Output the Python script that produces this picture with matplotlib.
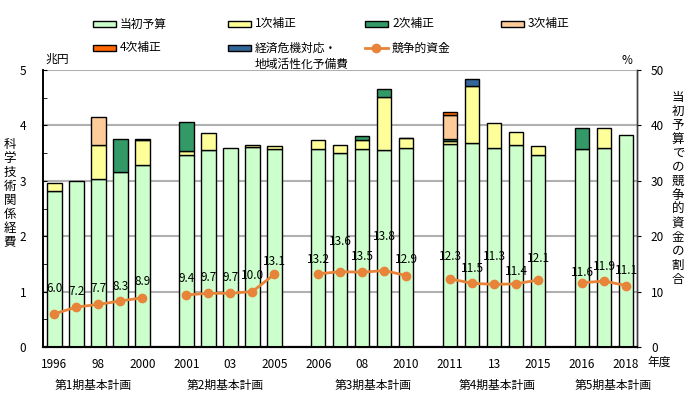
import numpy as np
import matplotlib
matplotlib.use("Agg")
import matplotlib.pyplot as plt
from matplotlib.patches import Rectangle
from matplotlib.lines import Line2D

plt.rcParams["font.family"] = ["Noto Sans CJK JP", "DejaVu Sans"]

# data (trillion yen / %)
years = list(range(1996, 2019))
periods = [1] * 5 + [2] * 5 + [3] * 5 + [4] * 5 + [5] * 3
initial = [2.81, 3.00, 3.03, 3.15, 3.28, 3.46, 3.55, 3.60, 3.61, 3.57,
           3.57, 3.51, 3.57, 3.56, 3.59, 3.66, 3.69, 3.60, 3.65, 3.47,
           3.57, 3.59, 3.83]
supp1 = [0.15, 0.00, 0.62, 0.00, 0.46, 0.07, 0.32, 0.00, 0.03, 0.05,
         0.16, 0.13, 0.17, 0.95, 0.18, 0.05, 1.02, 0.45, 0.23, 0.16,
         0.00, 0.37, 0.00]
supp2 = [0.00, 0.00, 0.00, 0.61, 0.01, 0.54, 0.00, 0.00, 0.00, 0.00,
         0.00, 0.00, 0.07, 0.15, 0.01, 0.04, 0.00, 0.00, 0.00, 0.00,
         0.39, 0.00, 0.00]
supp3 = [0.00, 0.00, 0.51, 0.00, 0.00, 0.00, 0.00, 0.00, 0.00, 0.00,
         0.00, 0.00, 0.00, 0.00, 0.00, 0.43, 0.00, 0.00, 0.00, 0.00,
         0.00, 0.00, 0.00]
supp4 = [0.00] * 15 + [0.07] + [0.00] * 7
reserve = [0.00] * 16 + [0.13] + [0.00] * 6
competitive = [6.0, 7.2, 7.7, 8.3, 8.9, 9.4, 9.7, 9.7, 10.0, 13.1,
               13.2, 13.6, 13.5, 13.8, 12.9, 12.3, 11.5, 11.3, 11.4, 12.1,
               11.6, 11.9, 11.1]
tick_labels = ["1996", "", "98", "", "2000", "2001", "", "03", "", "2005",
               "2006", "", "08", "", "2010", "2011", "", "13", "", "2015",
               "2016", "", "2018"]
period_names = ["第1期基本計画", "第2期基本計画", "第3期基本計画",
                "第4期基本計画", "第5期基本計画"]

series = [
    ("当初予算", initial, "#CCFFCC"),
    ("1次補正", supp1, "#FFFF99"),
    ("2次補正", supp2, "#339966"),
    ("3次補正", supp3, "#FFCC99"),
    ("4次補正", supp4, "#FF6600"),
    ("経済危機対応・\n地域活性化予備費", reserve, "#336699"),
]
line_color = "#E8843A"

# one empty slot between plan periods
x = np.array([i + p - 1 for i, p in enumerate(periods)], dtype=float)

fig = plt.figure(figsize=(7.0, 3.98), dpi=100)
ax = fig.add_axes([43 / 700, 1 - 347 / 398, 594 / 700, 277 / 398])
ax2 = ax.twinx()

bottom = np.zeros(len(years))
for name, vals, col in series:
    vals = np.array(vals)
    m = vals > 0
    ax.bar(x[m], vals[m], bottom=bottom[m], width=0.66, color=col,
           edgecolor="black", linewidth=1.0, zorder=3)
    bottom += vals

# competitive funds line, broken between periods
for p in sorted(set(periods)):
    idx = [i for i, q in enumerate(periods) if q == p]
    ax2.plot(x[idx], [competitive[i] for i in idx], color=line_color,
             lw=2, marker="o", ms=6, zorder=5)

label_dy = [25, 16, 16, 15, 16, 16, 16, 16, 16, 13, 14, 30, 16, 34, 16,
            22, 15, 28, 12, 21, 10, 15, 15]
for xi, v, dy in zip(x, competitive, label_dy):
    ax2.annotate(f"{v:.1f}", (xi, v), xytext=(0, dy),
                 textcoords="offset pixels", ha="center", va="center",
                 fontsize=8.5, color="black", zorder=6)

ax.set_xlim(-0.52, 26.5)
ax.set_ylim(0, 5)
ax2.set_ylim(0, 50)
ax.set_yticks(range(6))
ax.set_yticks(np.arange(0.5, 5, 1.0), minor=True)
ax2.set_yticks(range(0, 51, 10))
ax.set_xticks(x)
ax.set_xticklabels(tick_labels)
ax.tick_params(axis="x", length=0, pad=8, labelsize=8.5)
ax.tick_params(axis="y", which="both", direction="in", length=3,
               pad=12, labelsize=8.5)
ax2.tick_params(axis="y", direction="out", length=3, pad=7, labelsize=8.5)

ax.yaxis.grid(True, color="#B0B0B0", lw=1.5)
ax.set_axisbelow(True)
for a in (ax, ax2):
    a.spines["top"].set_visible(False)
    a.spines["left"].set_color("black")
    a.spines["left"].set_linewidth(1.2)
    a.spines["bottom"].set_linewidth(1.5)
    a.spines["right"].set_color("#404040")
    a.spines["right"].set_linewidth(1.0)

fig.text(45 / 700, 1 - 59 / 398, "兆円", fontsize=8.5, va="center")
fig.text(627 / 700, 1 - 60 / 398, "%", fontsize=8.5, va="center", ha="center")
fig.text(647 / 700, 1 - 362 / 398, "年度", fontsize=8.5, va="center")
fig.text(10 / 700, 1 - 193 / 398, "\n".join("科学技術関係経費"),
         fontsize=9, ha="center", va="center", linespacing=1.1)
fig.text(678 / 700, 1 - 188 / 398, "\n".join("当初予算での競争的資金の割合"),
         fontsize=9, ha="center", va="center", linespacing=1.1)

period_pos = [1.75, 7.76, 14.49, 20.13, 25.41]
for px, name in zip(period_pos, period_names):
    ax.text(px, -0.0, name, transform=ax.get_xaxis_transform(),
            fontsize=8.5, ha="center", va="center")
for t in ax.texts:
    t.set_y(-38 / 277)

# legend drawn by hand, row-wise
leg_x = [93, 228, 365, 501]
leg_y = [24, 48]
slots = [(0, 0), (1, 0), (2, 0), (3, 0), (0, 1), (1, 1)]
for (name, _, col), (c, r) in zip(series, slots):
    px, py = leg_x[c], leg_y[r]
    fig.patches.append(Rectangle((px / 700, 1 - (py + 3) / 398), 23 / 700, 6 / 398,
                                 transform=fig.transFigure, facecolor=col,
                                 edgecolor="black", lw=1.0))
    lines = name.split("\n")
    fig.text((px + 27) / 700, 1 - py / 398, lines[0], fontsize=8.5, va="center")
    if len(lines) > 1:
        fig.text((px + 27) / 700, 1 - (py + 16) / 398, lines[1],
                 fontsize=8.5, va="center")
lx, ly = leg_x[2], leg_y[1]
fig.lines.append(Line2D([lx / 700, (lx + 23) / 700], [1 - ly / 398] * 2,
                        transform=fig.transFigure, color=line_color, lw=2,
                        marker="o", markevery=[1], ms=0))
fig.lines.append(Line2D([(lx + 11.5) / 700], [1 - ly / 398],
                        transform=fig.transFigure, color=line_color,
                        marker="o", ms=6, lw=0))
fig.text((lx + 27) / 700, 1 - ly / 398, "競争的資金", fontsize=8.5, va="center")

fig.savefig("out.png", dpi=100)
